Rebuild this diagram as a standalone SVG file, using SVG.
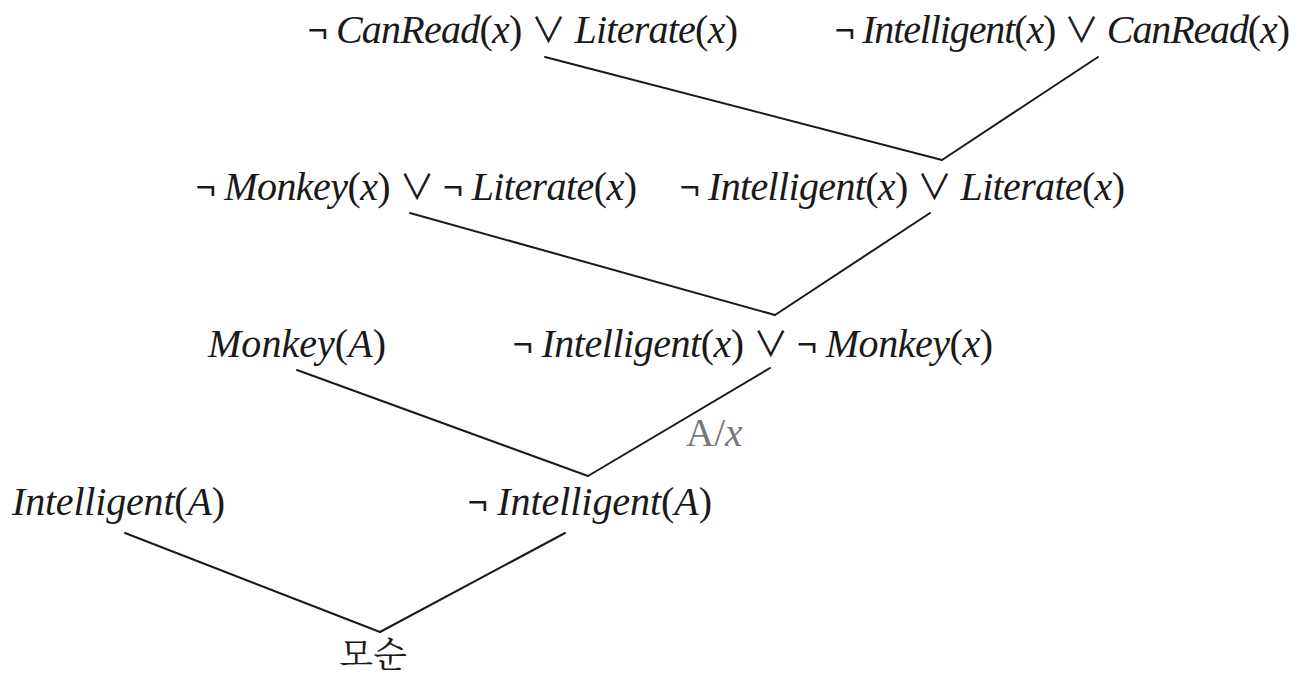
<svg xmlns="http://www.w3.org/2000/svg" width="1305" height="681" viewBox="0 0 1305 681">
<style>
.t{font-size:40px;fill:#1a1a1a}
.o{font-family:'Noto Sans CJK KR','DejaVu Sans',sans-serif;font-size:35px}
.lbl{font-size:39px;fill:#777}
.k{font-size:35px;fill:#1a1a1a}
.e{stroke:#1a1a1a;stroke-width:2;fill:none;stroke-linecap:round}
</style>
<rect width="1305" height="681" fill="#fff"/>
<g id="edges">
<line class="e" x1="545" y1="57" x2="942" y2="160"/>
<line class="e" x1="1098" y1="57" x2="942" y2="160"/>
<line class="e" x1="410" y1="213" x2="775" y2="315"/>
<line class="e" x1="930" y1="213" x2="775" y2="315"/>
<line class="e" x1="297" y1="370" x2="588" y2="476"/>
<line class="e" x1="770" y1="368" x2="588" y2="476"/>
<line class="e" x1="125" y1="533" x2="380" y2="632"/>
<line class="e" x1="565" y1="533" x2="380" y2="632"/>
</g>
<g font-family="Liberation Serif, serif">
<g id="n1"><text class="t" x="308" y="43" textLength="430" lengthAdjust="spacing"><tspan class="o">¬</tspan> <tspan font-style="italic">CanRead</tspan>(<tspan font-style="italic">x</tspan>) <tspan class="o">∨</tspan> <tspan font-style="italic">Literate</tspan>(<tspan font-style="italic">x</tspan>)</text></g>
<g id="n2"><text class="t" x="835" y="43" textLength="455" lengthAdjust="spacing"><tspan class="o">¬</tspan> <tspan font-style="italic">Intelligent</tspan>(<tspan font-style="italic">x</tspan>) <tspan class="o">∨</tspan> <tspan font-style="italic">CanRead</tspan>(<tspan font-style="italic">x</tspan>)</text></g>
<g id="n3"><text class="t" x="196" y="200" textLength="441" lengthAdjust="spacing"><tspan class="o">¬</tspan> <tspan font-style="italic">Monkey</tspan>(<tspan font-style="italic">x</tspan>) <tspan class="o">∨</tspan> <tspan class="o">¬</tspan> <tspan font-style="italic">Literate</tspan>(<tspan font-style="italic">x</tspan>)</text></g>
<g id="n4"><text class="t" x="680" y="200" textLength="445" lengthAdjust="spacing"><tspan class="o">¬</tspan> <tspan font-style="italic">Intelligent</tspan>(<tspan font-style="italic">x</tspan>) <tspan class="o">∨</tspan> <tspan font-style="italic">Literate</tspan>(<tspan font-style="italic">x</tspan>)</text></g>
<g id="n5"><text class="t" x="208" y="357" textLength="178" lengthAdjust="spacing"><tspan font-style="italic">Monkey</tspan>(<tspan font-style="italic">A</tspan>)</text></g>
<g id="n6"><text class="t" x="513" y="357" textLength="480" lengthAdjust="spacing"><tspan class="o">¬</tspan> <tspan font-style="italic">Intelligent</tspan>(<tspan font-style="italic">x</tspan>) <tspan class="o">∨</tspan> <tspan class="o">¬</tspan> <tspan font-style="italic">Monkey</tspan>(<tspan font-style="italic">x</tspan>)</text></g>
<g id="n7"><text class="t" x="12" y="515" textLength="213" lengthAdjust="spacing"><tspan font-style="italic">Intelligent</tspan>(<tspan font-style="italic">A</tspan>)</text></g>
<g id="n8"><text class="t" x="468" y="515" textLength="244" lengthAdjust="spacing"><tspan class="o">¬</tspan> <tspan font-style="italic">Intelligent</tspan>(<tspan font-style="italic">A</tspan>)</text></g>
<g id="label"><text class="lbl" x="686" y="446">A/<tspan font-style="italic">x</tspan></text></g>
</g>
<g id="n9"><text class="k" x="373" y="667" text-anchor="middle" font-family="Noto Serif CJK KR, Noto Sans CJK KR, serif">모순</text></g>
</svg>
